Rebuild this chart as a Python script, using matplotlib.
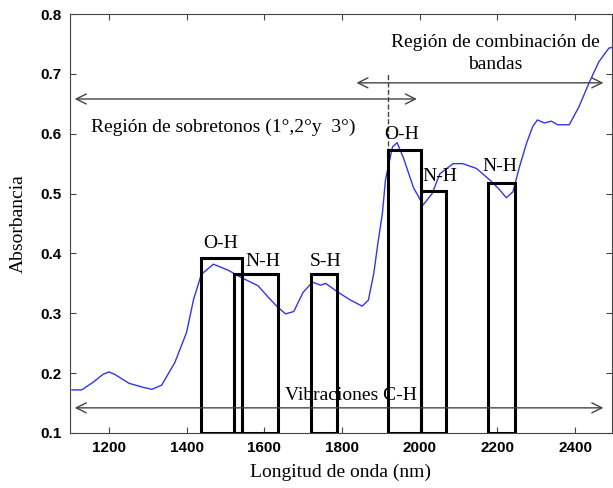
import numpy as np
import matplotlib
matplotlib.use("Agg")
import matplotlib.pyplot as plt

# spectrum (nm, absorbance)
wl = [1105, 1130, 1160, 1185, 1200, 1215, 1252, 1290, 1311, 1336, 1370, 1400, 1418, 1438,
      1469, 1507, 1540, 1584, 1610, 1635, 1655, 1676, 1700, 1724, 1745, 1758, 1788, 1822,
      1852, 1868, 1882, 1892, 1904, 1912, 1930, 1942, 1958, 1984, 2009, 2032, 2052, 2086,
      2111, 2146, 2180, 2205, 2223, 2240, 2257, 2275, 2291, 2303, 2321, 2339, 2355, 2385,
      2410, 2436, 2461, 2487, 2500]
absb = [0.172, 0.172, 0.185, 0.198, 0.202, 0.198, 0.183, 0.176, 0.173, 0.18, 0.218, 0.268,
        0.323, 0.365, 0.382, 0.372, 0.36, 0.346, 0.327, 0.31, 0.299, 0.303, 0.335, 0.352,
        0.347, 0.35, 0.336, 0.322, 0.312, 0.322, 0.367, 0.415, 0.467, 0.523, 0.578, 0.585,
        0.56, 0.51, 0.481, 0.5, 0.533, 0.55, 0.55, 0.542, 0.523, 0.507, 0.493, 0.503, 0.545,
        0.584, 0.612, 0.623, 0.618, 0.621, 0.615, 0.615, 0.645, 0.685, 0.72, 0.743, 0.745]

# band boxes
band_names = ["O-H", "N-H", "S-H", "O-H", "N-H", "N-H"]
band_left = [1436, 1523, 1721, 1918, 2003, 2177]
band_right = [1543, 1635, 1787, 2003, 2069, 2246]
band_top = [0.393, 0.365, 0.365, 0.573, 0.505, 0.518]
label_x = [1487, 1597, 1758, 1953, 2052, 2207]
label_y = [0.416, 0.386, 0.386, 0.598, 0.528, 0.545]

serif = "Liberation Serif"
fs = 14

fig = plt.figure(figsize=(6.13, 4.88), dpi=100)
ax = fig.add_axes([70/613, 55/488, 542/613, 419/488])

ax.plot(wl, absb, color="#3535e8", lw=1)

left = np.array(band_left)
width = np.array(band_right) - left
ax.bar(left, np.array(band_top) - 0.1, width, bottom=0.1, align="edge",
       fill=False, edgecolor="black", lw=2.2, zorder=3)
for n, x, y in zip(band_names, label_x, label_y):
    ax.text(x, y, n, ha="center", va="center", fontsize=fs, family=serif)

ax.plot([1918, 1918], [0.1, 0.70], ls="--", color="#444444", lw=1)

arrow = dict(arrowstyle="<->", color="#444444", lw=1, mutation_scale=18)
ax.annotate("", xy=(1105, 0.658), xytext=(2000, 0.658), arrowprops=arrow)
ax.annotate("", xy=(1830, 0.685), xytext=(2480, 0.685), arrowprops=arrow)
ax.annotate("", xy=(1105, 0.142), xytext=(2480, 0.142), arrowprops=arrow)

ax.text(1155, 0.611, "Región de sobretonos (1°,2°y  3°)", ha="left", va="center",
        fontsize=fs, family=serif)
ax.text(2195, 0.734, "Región de combinación de\nbandas", ha="center", va="center",
        fontsize=fs, family=serif, linespacing=1.35)
ax.text(1822, 0.163, "Vibraciones C-H", ha="center", va="center", fontsize=fs,
        family=serif)

ax.set_xlim(1100, 2495)
ax.set_ylim(0.1, 0.8)
ax.set_xticks([1200, 1400, 1600, 1800, 2000, 2200, 2400])
ax.set_yticks([0.1, 0.2, 0.3, 0.4, 0.5, 0.6, 0.7, 0.8])
ax.set_yticklabels(["0.1", "0.2", "0.3", "0.4", "0.5", "0.6", "0.7", "0.8"])
ax.tick_params(direction="in", top=True, right=True, length=4, color="#444444",
               labelsize=11, pad=6)
for lab in ax.get_xticklabels() + ax.get_yticklabels():
    lab.set_fontweight("bold")
    lab.set_family("Liberation Sans")
for s in ax.spines.values():
    s.set_color("#444444")

ax.set_xlabel("Longitud de onda (nm)", fontsize=fs, family=serif, labelpad=6)
ax.set_ylabel("Absorbancia", fontsize=fs, family=serif, labelpad=10)

fig.savefig("out.png", dpi=100)
